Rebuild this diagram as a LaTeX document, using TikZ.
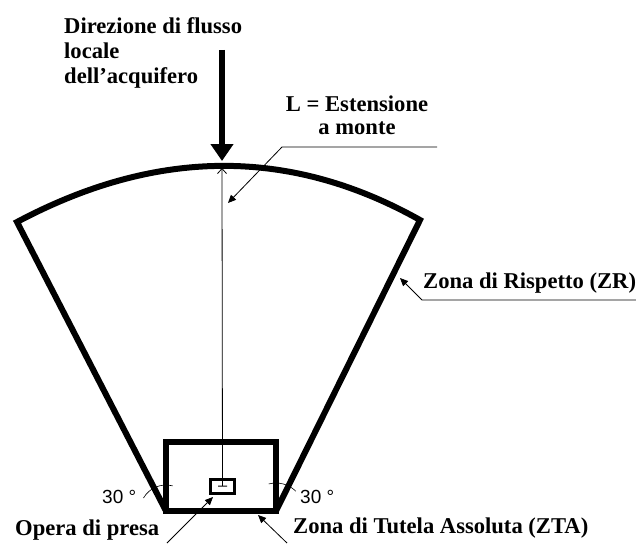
\documentclass[tikz,border=0pt]{standalone}
\usepackage{fontspec}
\setmainfont{Liberation Serif}
\setsansfont{Liberation Sans}
\usetikzlibrary{arrows.meta, calc}

\begin{document}
\begin{tikzpicture}[x=1pt, y=-1pt,
    lbl/.style={font=\bfseries\fontsize{22.6}{25}\selectfont, inner sep=0pt},
    deg/.style={font=\sffamily\fontsize{19}{20}\selectfont, inner sep=0pt, anchor=base west},
    zone/.style={line width=6pt},
    leader/.style={line width=0.8pt, -{Triangle[length=8pt,width=7pt]}},
    anglemark/.style={line width=0.6pt}]
  \useasboundingbox[fill=white] (0,0) rectangle (636,543);
  % corners of the zones
  \coordinate (fanL) at (17,222);
  \coordinate (fanR) at (420,220);
  \coordinate (boxTL) at (166,442);
  \coordinate (boxBL) at (166,511);
  \coordinate (boxBR) at (276,511);
  \coordinate (peak) at (222,168);
  % zona di rispetto
  \draw[zone] (boxBL) -- (fanL) .. controls (156,148) and (290,147) .. (fanR) -- (boxBR);
  % zona di tutela assoluta
  \draw[zone] (boxTL) rectangle (boxBR);
  % angle marks
  \draw[anglemark] ($(boxBL)+(-75:26)$) arc[start angle=-75, end angle=-150, radius=26];
  \draw[anglemark] ($(boxBR)+(-45:28)$) arc[start angle=-45, end angle=-105, radius=28];
  \node[deg] (degL) at (102,503) {30 °};
  \node[deg] (degR) at (300,503) {30 °};
  % well and L
  \node[draw, line width=3pt, fill=white, minimum width=24pt, minimum height=14pt, inner sep=0pt] (well) at (222.5,486.5) {};
  \draw[line width=0.8pt, {Bar[width=9pt]}-{Straight Barb[length=5pt,width=9pt]}] (well.center) -- (peak);
  % flow direction
  \node[lbl, align=left, anchor=north west] (flow) at (64,17) {Direzione di flusso\\locale\\dell{\char"0027}acquifero};
  \coordinate (flowtop) at (222,50);
  \coordinate (flowtip) at (222,161);
  \draw[line width=6pt, -{Triangle[width=22pt,length=17pt]}] (flowtop) -- (flowtip);
  % labels with leaders
  \node[lbl, align=center, anchor=north, font=\bfseries\fontsize{22.6}{23}\selectfont] (ext) at (357,96) {L = Estensione\\a monte};
  \coordinate (extend) at (437,147);
  \coordinate (extknee) at (282,147);
  \coordinate (exttip) at (228,203);
  \draw[leader] (extend) -- (extknee) -- (exttip);
  \node[lbl, anchor=base west] (zr) at (423,288) {Zona di Rispetto (ZR)};
  \coordinate (zrend) at (636,300);
  \coordinate (zrknee) at (422,300);
  \coordinate (zrtip) at (400,278);
  \draw[leader] (zrend) -- (zrknee) -- (zrtip);
  \node[lbl, anchor=base west] (presa) at (15,535) {Opera di presa};
  \coordinate (presatail) at (167,543);
  \coordinate (presatip) at (213,497);
  \draw[leader] (presatail) -- (presatip);
  \node[lbl, anchor=base west] (zta) at (293,533) {Zona di Tutela Assoluta (ZTA)};
  \coordinate (ztatail) at (287,543);
  \coordinate (ztatip) at (258,515);
  \draw[leader] (ztatail) -- (ztatip);
\end{tikzpicture}
\end{document}
